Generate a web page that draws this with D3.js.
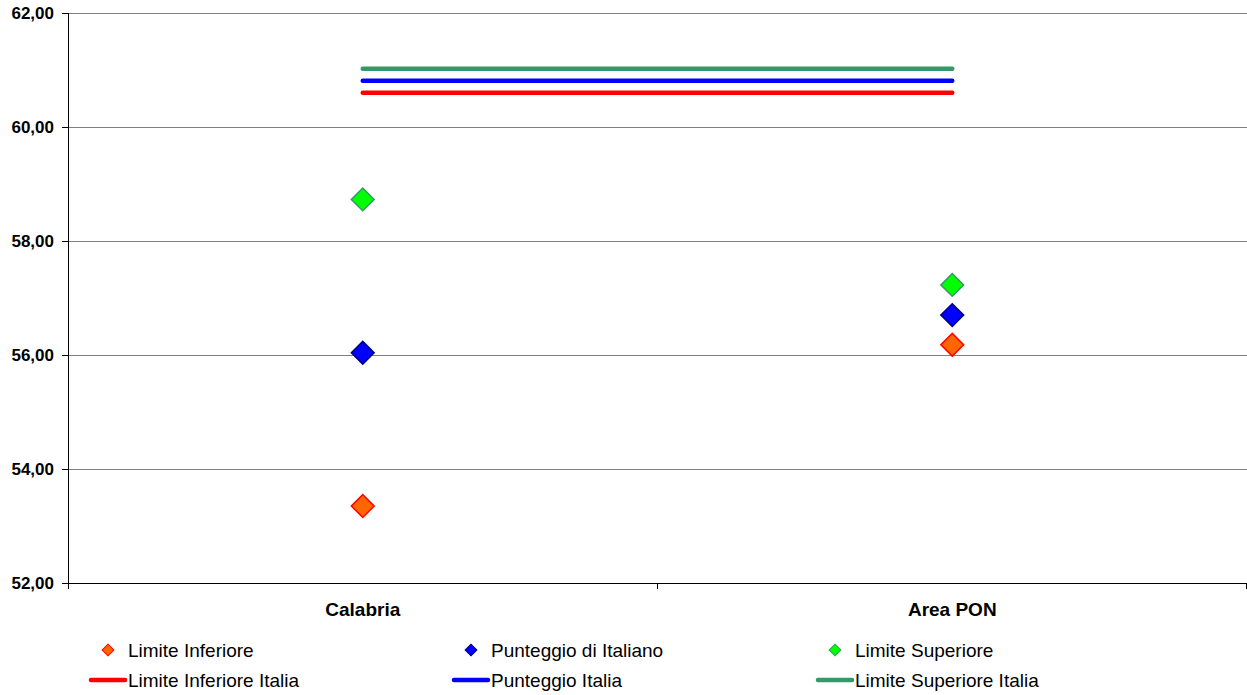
<!DOCTYPE html>
<html><head><meta charset="utf-8">
<script src="https://cdn.jsdelivr.net/npm/d3@7"></script>
<style>body{margin:0;background:#fff;}svg{display:block;font-family:"Liberation Sans",Arial,sans-serif;}</style>
</head><body><svg id="c" width="1247" height="695"></svg>
<script>
const categories = ["Calabria", "Area PON"];
const limiteInferiore = [53.35, 56.18];
const punteggioItaliano = [56.04, 56.70];
const limiteSuperiore = [58.73, 57.23];
const limiteInferioreItalia = [60.60, 60.60];
const punteggioItalia = [60.81, 60.81];
const limiteSuperioreItalia = [61.02, 61.02];
const yTicks = [52, 54, 56, 58, 60, 62];

const svg = d3.select("#c");
const L = 68, R = 1247, T = 13, B = 583;
const x = d3.scaleBand().domain(categories).range([L, R]);
const y = d3.scaleLinear().domain([52, 62]).range([B, T]);
const fmt = d => d.toFixed(2).replace(".", ",");

// gridlines
svg.append("g").selectAll("line").data(yTicks).join("line")
  .attr("x1", L).attr("x2", R).attr("y1", d => y(d)).attr("y2", d => y(d))
  .attr("stroke", "#808080").attr("stroke-width", 1).attr("shape-rendering", "crispEdges");

// y axis
const ya = svg.append("g").attr("transform", `translate(${L},0)`)
  .call(d3.axisLeft(y).tickValues(yTicks).tickFormat(fmt).tickSize(6).tickPadding(8));
ya.select(".domain").attr("stroke", "#000").attr("shape-rendering", "crispEdges");
ya.selectAll(".tick line").attr("stroke", "#000").attr("shape-rendering", "crispEdges");
ya.selectAll("text").attr("font-family", "Liberation Sans, Arial, sans-serif").attr("font-size", 17).attr("font-weight", "bold").attr("fill", "#000");

// x axis
const xa = svg.append("g").attr("transform", `translate(0,${B})`)
  .call(d3.axisBottom(x).tickSize(0).tickPadding(20));
xa.select(".domain").attr("stroke", "#000").attr("shape-rendering", "crispEdges");
xa.selectAll("text").attr("font-family", "Liberation Sans, Arial, sans-serif").attr("font-size", 19).attr("font-weight", "bold").attr("fill", "#000");
// category boundary ticks
const bounds = [L, L + x.step(), R - 1];
svg.append("g").selectAll("line").data(bounds).join("line")
  .attr("x1", d => d).attr("x2", d => d).attr("y1", B).attr("y2", B + 6)
  .attr("stroke", "#000").attr("shape-rendering", "crispEdges");

const cx = c => x(c) + x.bandwidth() / 2;

// lines
const lineSeries = [
  { vals: limiteSuperioreItalia, color: "#339966" },
  { vals: punteggioItalia, color: "#0000FF" },
  { vals: limiteInferioreItalia, color: "#FF0000" }
];
const lg = d3.line().x((d, i) => cx(categories[i])).y(d => y(d));
lineSeries.forEach(s => {
  svg.append("path").attr("d", lg(s.vals)).attr("fill", "none")
    .attr("stroke", s.color).attr("stroke-width", 4.5).attr("stroke-linecap", "round");
});

// diamonds
const diamond = d3.symbol().type(d3.symbolSquare).size(260);
const pointSeries = [
  { vals: limiteInferiore, fill: "#FF6600", stroke: "#FF0000" },
  { vals: punteggioItaliano, fill: "#0000FF", stroke: "#000080" },
  { vals: limiteSuperiore, fill: "#00FF00", stroke: "#339966" }
];
pointSeries.forEach(s => {
  svg.append("g").selectAll("path").data(s.vals).join("path")
    .attr("d", diamond)
    .attr("transform", (d, i) => `translate(${cx(categories[i])},${y(d)}) rotate(45)`)
    .attr("fill", s.fill).attr("stroke", s.stroke).attr("stroke-width", 1.5);
});

// legend
const legendItems = [
  { label: "Limite Inferiore", type: "pt", fill: "#FF6600", stroke: "#FF0000", x: 108, ty: 650 },
  { label: "Punteggio di Italiano", type: "pt", fill: "#0000FF", stroke: "#000080", x: 471, ty: 650 },
  { label: "Limite Superiore", type: "pt", fill: "#00FF00", stroke: "#339966", x: 835, ty: 650 },
  { label: "Limite Inferiore Italia", type: "ln", color: "#FF0000", x: 108, ty: 680 },
  { label: "Punteggio Italia", type: "ln", color: "#0000FF", x: 471, ty: 680 },
  { label: "Limite Superiore Italia", type: "ln", color: "#339966", x: 835, ty: 680 }
];
const smallDiamond = d3.symbol().type(d3.symbolSquare).size(70);
const lgG = svg.append("g");
legendItems.forEach(it => {
  if (it.type === "pt") {
    lgG.append("path").attr("d", smallDiamond)
      .attr("transform", `translate(${it.x},${it.ty}) rotate(45)`)
      .attr("fill", it.fill).attr("stroke", it.stroke).attr("stroke-width", 1);
  } else {
    lgG.append("line").attr("x1", it.x - 17).attr("x2", it.x + 17).attr("y1", it.ty).attr("y2", it.ty)
      .attr("stroke", it.color).attr("stroke-width", 4.5).attr("stroke-linecap", "round");
  }
  lgG.append("text").attr("x", it.x + 20).attr("y", it.ty).attr("dy", "0.35em")
    .attr("font-size", 19).attr("fill", "#000").text(it.label);
});
</script></body></html>
